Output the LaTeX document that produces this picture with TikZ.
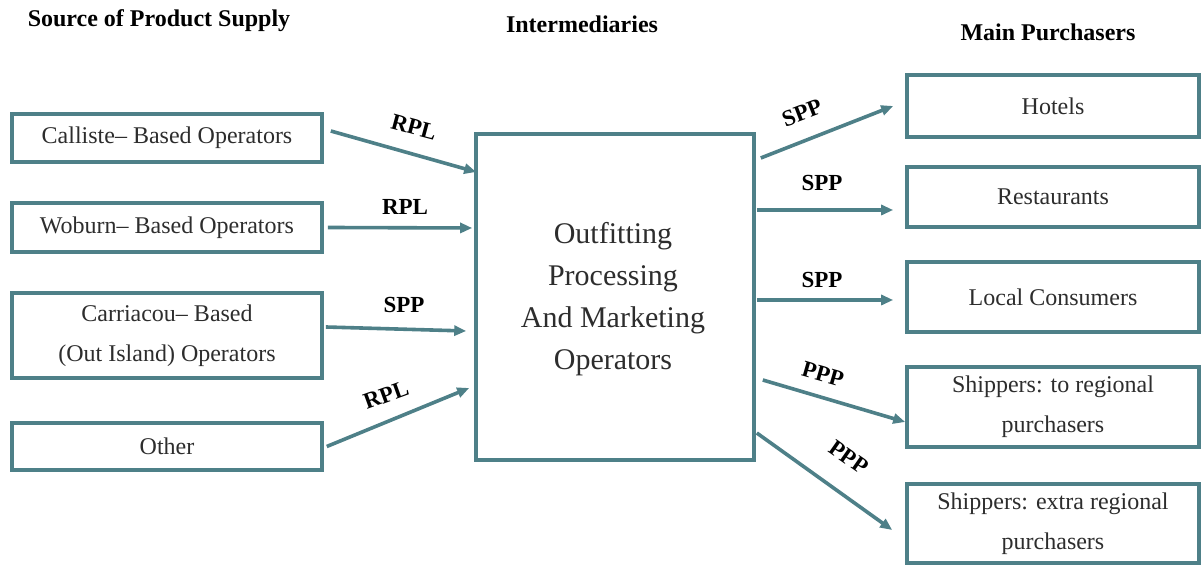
\documentclass[tikz,border=0pt]{standalone}
\usepackage{fontspec}
\IfFontExistsTF{LiberationSerif-Regular.ttf}{%
  \setmainfont{LiberationSerif}[Extension=.ttf,UprightFont=*-Regular,BoldFont=*-Bold,ItalicFont=*-Italic,BoldItalicFont=*-BoldItalic]}{%
  \setmainfont{Liberation Serif}}
\usetikzlibrary{arrows.meta}
\definecolor{tealc}{RGB}{78,128,136}
\definecolor{txt}{RGB}{45,45,45}
\tikzset{
  box/.style={draw=tealc, line width=1.8pt, rectangle, inner sep=2pt, align=center,
    text=txt, font=\rmfamily\fontsize{12}{20}\selectfont},
  big/.style={draw=tealc, line width=1.8pt, rectangle, align=center, text=txt},
  conn/.style={draw=tealc, line width=1.8pt, -{Triangle[length=6pt,width=5pt]}},
  lab/.style={font=\rmfamily\bfseries\fontsize{11.5}{12}\selectfont, text=black, inner sep=0pt},
  ttl/.style={font=\rmfamily\bfseries\fontsize{12}{14}\selectfont, text=black, inner sep=0pt}
}
\begin{document}
\begin{tikzpicture}[x=0.5pt,y=-0.5pt]
\useasboundingbox (0,0) rectangle (1201,565);
\fill[white] (0,0) rectangle (1201,565);
% titles
\node[ttl] (t1) at (159,21) {Source of Product Supply};
\node[ttl] (t2) at (582,24) {Intermediaries};
\node[ttl] (t3) at (1048,32) {Main Purchasers};
% left boxes
\node[box, minimum width=155pt, minimum height=24pt] (cal) at (167,138) {Calliste-- Based Operators};
\node[box, minimum width=155pt, minimum height=24.5pt] (wob) at (167,227.5) {Woburn-- Based Operators};
\node[box, minimum width=155pt, minimum height=42.5pt] (car) at (167,335.5) {Carriacou-- Based\\(Out Island) Operators};
\node[box, minimum width=155pt, minimum height=23.5pt] (oth) at (167,446.5) {Other};
% middle
\node[big, minimum width=139pt, minimum height=163pt] (mid) at (615,297) {};
\node[text=txt, align=center, font=\rmfamily\fontsize{15}{21}\selectfont] (midt) at (613,299) {Outfitting\\Processing\\And Marketing\\Operators};
% right boxes
\node[box, minimum width=146pt, minimum height=31pt] (hot) at (1053,106) {Hotels};
\node[box, minimum width=146pt, minimum height=30pt] (res) at (1053,197) {Restaurants};
\node[box, minimum width=146pt, minimum height=35pt] (loc) at (1053,297) {Local Consumers};
\node[box, minimum width=146pt, minimum height=40pt] (shr) at (1053,407) {Shippers: to regional\\purchasers};
\node[box, minimum width=146pt, minimum height=39.5pt] (she) at (1053,523.5) {Shippers: extra regional\\purchasers};
% left connectors
\draw[conn] ([xshift=3.5pt,yshift=3.5pt]cal.east) -- ([xshift=1pt,yshift=62.5pt]mid.west);
\draw[conn] ([xshift=2pt]wob.east) -- ([xshift=-1pt,yshift=34.5pt]mid.west);
\draw[conn] ([xshift=1pt,yshift=4.25pt]car.east) -- ([xshift=-4pt,yshift=-17pt]mid.west);
\draw[conn] ([xshift=1.5pt]oth.east) -- ([xshift=-2.5pt,yshift=-45.5pt]mid.west);
% right connectors
\draw[conn] ([xshift=2.5pt,yshift=69.5pt]mid.east) -- ([xshift=-6pt]hot.west);
\draw[conn] ([xshift=0.5pt,yshift=43.5pt]mid.east) -- ([xshift=-6pt,yshift=-6.5pt]res.west);
\draw[conn] ([xshift=0.5pt,yshift=-1.5pt]mid.east) -- ([xshift=-6pt,yshift=-1.5pt]loc.west);
\draw[conn] ([xshift=3.5pt,yshift=-41.5pt]mid.east) -- ([yshift=-7.5pt]shr.west);
\draw[conn] ([xshift=0.5pt,yshift=-68pt]mid.east) -- ([xshift=-6.5pt,yshift=-3.25pt]she.west);
% labels
\node[lab, rotate=-15] (l1) at (414,127) {RPL};
\node[lab] (l2) at (405,207) {RPL};
\node[lab] (l3) at (404,305) {SPP};
\node[lab, rotate=20] (l4) at (386,395) {RPL};
\node[lab, rotate=21] (r1) at (802,113) {SPP};
\node[lab] (r2) at (822,183) {SPP};
\node[lab] (r3) at (822,280) {SPP};
\node[lab, rotate=-16] (r4) at (823,374) {PPP};
\node[lab, rotate=-35] (r5) at (849,457) {PPP};
\end{tikzpicture}
\end{document}
